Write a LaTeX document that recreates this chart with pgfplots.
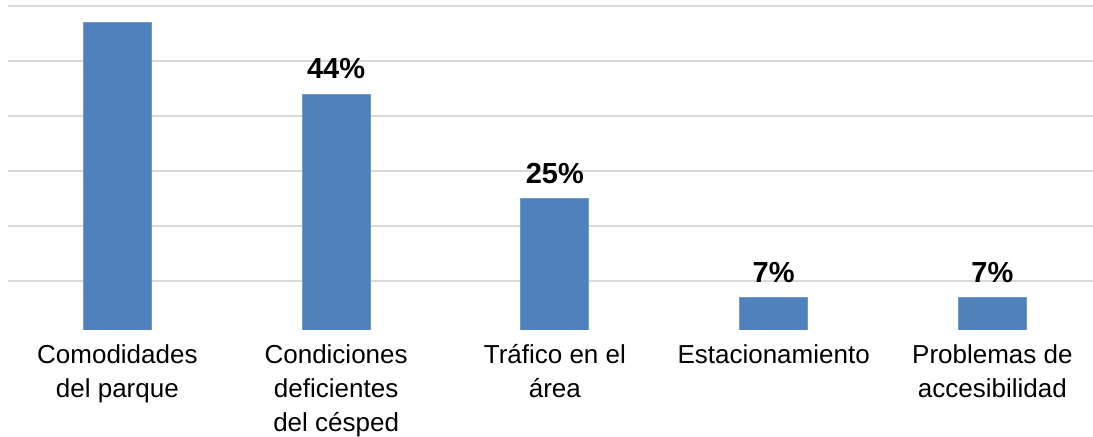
\documentclass[border=0pt]{standalone}
\usepackage{fontspec}
\setmainfont{Liberation Sans}
\usepackage{pgfplots}
\pgfplotsset{compat=1.18}
\definecolor{barblue}{HTML}{4F81BD}
\definecolor{gridgray}{HTML}{D9D9D9}

\begin{document}
\begin{tikzpicture}
\begin{axis}[at={(4pt,218.5pt)}, anchor=north west,
  scale only axis, width=542.5pt, height=165pt,
  ybar, bar width=34pt,
  xmin=-0.5, xmax=4.46, ymin=1.1, ymax=61.1,
  xtick={0,1,2,3,4},
  xticklabels={{Comodidades\\del parque},{Condiciones\\deficientes\\del césped},{Tráfico en el\\área},{Estacionamiento},{Problemas de\\accesibilidad}},
  xticklabel style={align=center, font=\fontsize{13}{17}\selectfont},
  ytick={10,20,30,40,50,60}, yticklabels={},
  major tick length=0pt, tick label style={inner sep=0pt},
  xtick style={draw=none}, ytick style={draw=none},
  axis line style={draw=none},
  ymajorgrids, grid style={gridgray, line width=1pt},
  point meta=explicit symbolic,
  nodes near coords,
  every node near coord/.append style={font=\fontsize{14.5}{17}\selectfont\bfseries, yshift=4pt},
  xticklabel style={yshift=-7pt},
  clip=true]
\addplot[fill=barblue, draw=barblue!80!white, line width=0.4pt] coordinates {
  (0,57) []
  (1,44) [44\%]
  (2,25) [25\%]
  (3,7) [7\%]
  (4,7) [7\%]
};
\end{axis}
\pgfresetboundingbox
\path[use as bounding box] (0,0) rectangle (546.5pt,218.5pt);
\end{tikzpicture}
\end{document}
